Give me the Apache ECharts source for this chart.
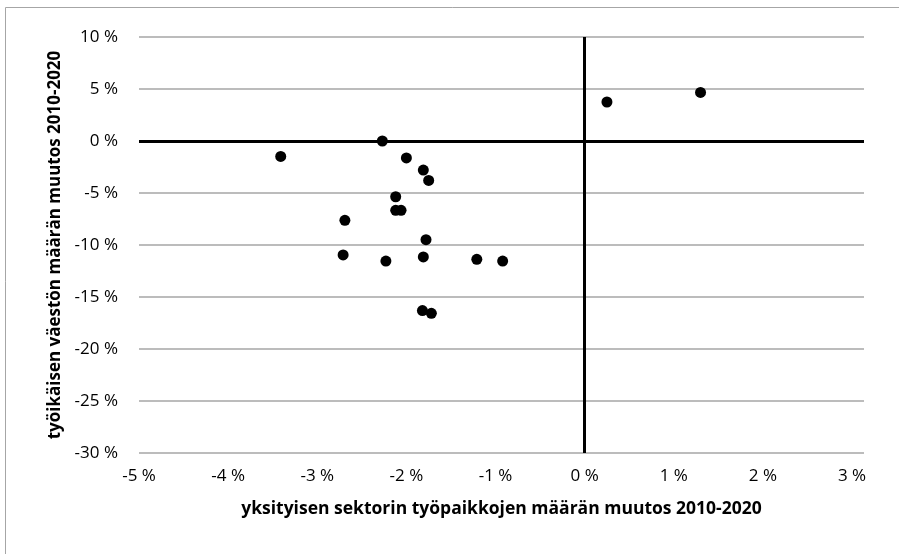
<!DOCTYPE html>
<html>
<head>
<meta charset="utf-8">
<script src="https://cdn.jsdelivr.net/npm/echarts@6/dist/echarts.min.js"></script>
<style>
  html, body { margin: 0; padding: 0; background: #fff; }
  #chart { width: 899px; height: 554px; }
</style>
</head>
<body>
<div id="chart"></div>
<script>
// yksityisen sektorin työpaikat (x, %) ja työikäinen väestö (y, %)
var jobsChange = [-3.41, -2.27, -2.00, -1.81, -1.75, -2.12, -2.12, -2.06, -2.69, -1.78,
  -2.71, -2.23, -1.81, -1.21, -0.92, -1.82, -1.72, 0.25, 1.30]
var popChange = [-1.48, 0.0, -1.63, -2.79, -3.79, -5.36, -6.67, -6.67, -7.63, -9.49,
  -10.96, -11.54, -11.15, -11.38, -11.54, -16.30, -16.57, 3.75, 4.67]
var xTicks = [-5, 3, 1]   // min, max, step
var yTicks = [-30, 10, 5]

var font = 'Open Sans'
var chart = echarts.init(document.getElementById('chart'))

var points = jobsChange.map(function (x, i) { return [x, popChange[i]] })

var option = {
  animation: false,
  backgroundColor: '#fff',
  textStyle: { fontFamily: font },
  grid: { left: 139, right: 35, top: 37, bottom: 101 },
  graphic: [{
    type: 'rect',
    shape: { x: 5.5, y: 7.5, width: 1000, height: 1000 },
    style: { fill: 'none', stroke: '#a6a6a6', lineWidth: 1 }
  }],
  xAxis: {
    type: 'value',
    min: xTicks[0],
    max: 3.134,
    interval: xTicks[2],
    name: 'yksityisen sektorin työpaikkojen määrän muutos 2010-2020',
    nameLocation: 'middle',
    nameGap: 47,
    nameTextStyle: { fontFamily: font, fontSize: 17.5, fontWeight: 'bold', color: '#000' },
    axisLine: { show: false },
    axisTick: { show: false },
    splitLine: { show: false },
    axisLabel: {
      showMaxLabel: false,
      margin: 15,
      fontFamily: font,
      fontSize: 17,
      color: '#000',
      formatter: function (v) { return Math.round(v) + ' %' }
    }
  },
  yAxis: {
    type: 'value',
    min: yTicks[0],
    max: yTicks[1],
    interval: yTicks[2],
    name: 'työikäisen väestön määrän muutos 2010-2020',
    nameLocation: 'middle',
    nameGap: 73,
    nameTextStyle: { fontFamily: font, fontSize: 17, fontWeight: 'bold', color: '#000' },
    axisLine: { show: false },
    axisTick: { show: false },
    splitLine: { lineStyle: { color: '#a6a6a6', width: 1.5 } },
    axisLabel: {
      margin: 21,
      fontFamily: font,
      fontSize: 17,
      color: '#000',
      formatter: function (v) { return v + ' %' }
    }
  },
  series: [{
    type: 'scatter',
    data: points,
    symbol: 'circle',
    symbolSize: 11,
    itemStyle: { color: '#000', opacity: 1 },
    markLine: {
      silent: true,
      symbol: 'none',
      label: { show: false },
      lineStyle: { color: '#000', width: 3, type: 'solid' },
      data: [{ xAxis: 0 }, { yAxis: 0 }]
    }
  }]
}

chart.setOption(option)
</script>
</body>
</html>
